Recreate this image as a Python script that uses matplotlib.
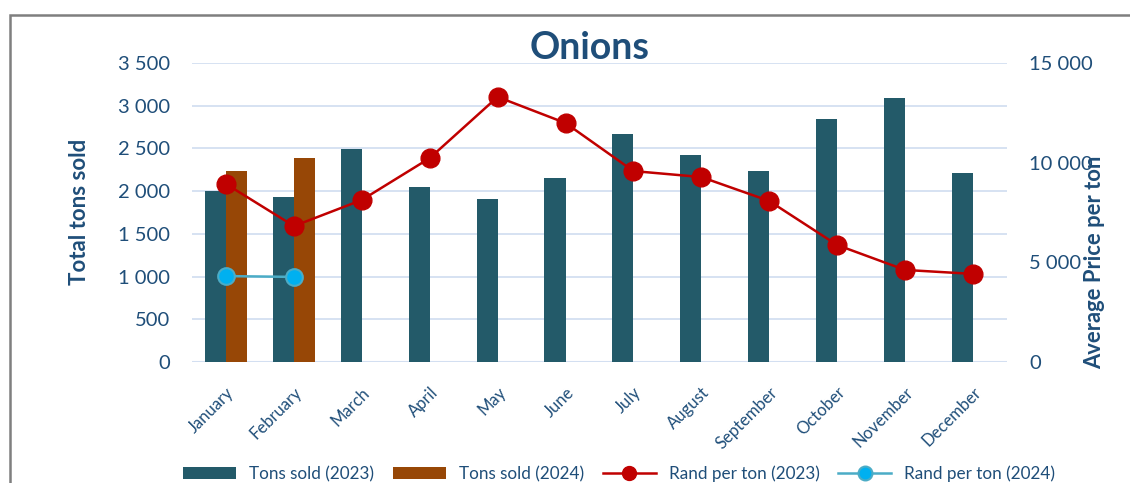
import numpy as np
import matplotlib
matplotlib.use('Agg')
import matplotlib.pyplot as plt
from matplotlib.patches import Rectangle
from matplotlib.lines import Line2D
from matplotlib.ticker import FuncFormatter

plt.rcParams['font.family'] = ['Lato', 'DejaVu Sans']

months = ['January', 'February', 'March', 'April', 'May', 'June', 'July',
          'August', 'September', 'October', 'November', 'December']
tons_2023 = [2000, 1930, 2490, 2050, 1910, 2150, 2670, 2425, 2240, 2845, 3090, 2210]
tons_2024 = [2235, 2390]
rand_2023 = [8930, 6820, 8130, 10230, 13300, 11990, 9580, 9280, 8080, 5870, 4620, 4420]
rand_2024 = [4310, 4270]

teal = '#235A69'
brown = '#974706'
red = '#C00000'
blue_line = '#4BACC6'
blue_face = '#00B0F0'
txt = '#1F4E79'
grid_c = '#D3DFF1'

def spaced(v, pos):
    return f'{int(v):,}'.replace(',', ' ')

fig = plt.figure(figsize=(11.3, 4.83), dpi=100)
ax = fig.add_axes([0.170, 0.2505, 0.721, 0.619])

x = np.arange(len(months))
w = 0.31
ax.bar(x - w / 2, tons_2023, width=w, color=teal, zorder=2, label='Tons sold (2023)')
ax.bar(x[:len(tons_2024)] + w / 2, tons_2024, width=w, color=brown, zorder=2,
       label='Tons sold (2024)')

ax.set_xlim(-0.5, len(months) - 0.5)
ax.set_ylim(0, 3500)
ax.set_yticks(np.arange(0, 3501, 500))
ax.yaxis.set_major_formatter(FuncFormatter(spaced))
ax.grid(axis='y', color=grid_c, linewidth=1.3, zorder=0)
ax.set_axisbelow(True)
for s in ax.spines.values():
    s.set_visible(False)
ax.axhline(0, color=grid_c, linewidth=1.5, zorder=1)
ax.tick_params(axis='y', length=0, pad=16, labelsize=14.5, labelcolor=txt)
ax.tick_params(axis='x', length=0, pad=16, labelsize=12, labelcolor=txt)
ax.set_xticks(x)
ax.set_xticklabels(months, rotation=45, ha='right', va='top', rotation_mode='anchor')
fig.text(80 / 1130, 1 - 212 / 483, 'Total tons sold', rotation=90,
         ha='center', va='center', fontsize=16, fontweight='bold', color=txt)

ax2 = ax.twinx()
ax2.set_ylim(0, 15000)
ax2.set_yticks(np.arange(0, 15001, 5000))
ax2.yaxis.set_major_formatter(FuncFormatter(spaced))
for s in ax2.spines.values():
    s.set_visible(False)
ax2.tick_params(axis='y', length=0, pad=16, labelsize=14.5, labelcolor=txt)
ax2.plot(x, rand_2023, color=red, linewidth=1.8, marker='o', markersize=13.5,
         markerfacecolor=red, markeredgecolor=red, zorder=3, label='Rand per ton (2023)')
ax2.plot(x[:len(rand_2024)], rand_2024, color=blue_line, linewidth=1.8, marker='o',
         markersize=12, markerfacecolor=blue_face, markeredgecolor=blue_line,
         markeredgewidth=1.5, zorder=3, label='Rand per ton (2024)')
fig.text(1095 / 1130, 1 - 262 / 483, 'Average Price per ton', rotation=90,
         ha='center', va='center', fontsize=15.8, fontweight='bold', color=txt)

fig.text(0.522, 0.90, 'Onions', ha='center', va='center', fontsize=27,
         fontweight='bold', color=txt)

# frame around the chart area (right and bottom edges fall outside the image)
fig.patches.append(Rectangle((10 / 1130, -0.2), 2, 1.2 - 15 / 483,
                             transform=fig.transFigure, fill=False,
                             edgecolor='#7F7F7F', linewidth=1.8))

h1, l1 = ax.get_legend_handles_labels()
h2, l2 = ax2.get_legend_handles_labels()
leg = fig.legend(h1 + h2, l1 + l2, loc='center', bbox_to_anchor=(0.548, 1 - 474 / 483),
                 ncol=4, frameon=False, fontsize=12.3, handlelength=3.1,
                 handleheight=0.7, columnspacing=1.1, handletextpad=0.76,
                 labelcolor=txt)
for h in leg.legend_handles:
    if isinstance(h, Line2D):
        h.set_markersize(10)

fig.savefig('out.png', dpi=100)
